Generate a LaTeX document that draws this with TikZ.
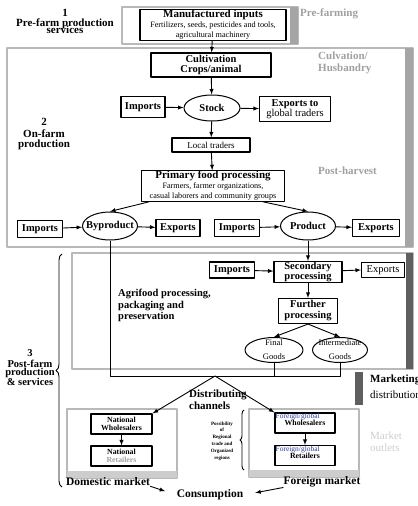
\documentclass[tikz,border=0pt]{standalone}
\usepackage{fontspec}
\setmainfont{Liberation Serif}
\usetikzlibrary{shapes.geometric,decorations.pathreplacing}
\definecolor{zonegray}{RGB}{185,185,185}
\definecolor{bargray}{RGB}{165,165,165}
\definecolor{darkbar}{RGB}{95,95,95}
\definecolor{stagegray}{RGB}{160,160,160}
\definecolor{outletgray}{RGB}{205,205,205}
\definecolor{tagblue}{RGB}{45,60,150}
\newcommand{\setfs}[2]{\fontsize{#1bp}{#2bp}\selectfont}
\newcommand{\smalltext}{\mdseries\setfs{8.2}{7.5}}
\begin{document}
\begin{tikzpicture}[>=latex,line join=bevel,
  zone/.style={draw=zonegray,line width=1.3bp},
  box/.style={draw,line width=1.1bp,inner sep=0.5bp,align=center,font=\setfs{10.5}{10.5}\bfseries},
  oval/.style={ellipse,draw,line width=1bp,inner sep=0pt},
  outlet/.style={draw,line width=1.1bp,inner sep=0.5bp,align=center,minimum width=61bp,minimum height=20bp,font=\setfs{7.8}{8.5}\bfseries},
  flow/.style={black,->,line width=0.9bp},
  link/.style={black,line width=0.9bp},
  stage/.style={align=center,anchor=north,inner sep=0pt,font=\setfs{11}{10}\bfseries},
  phase/.style={align=left,anchor=north west,inner sep=0pt,text=stagegray,font=\setfs{11}{12}\bfseries},
  curly/.style={decorate,decoration={brace,amplitude=6bp},line width=0.9bp},
]
\useasboundingbox (0bp,0bp) rectangle (418bp,-506bp);
%% zones
\draw [zone] (122bp,-7bp) rectangle (298bp,-44bp);
\fill [bargray] (290bp,-7bp) rectangle (298bp,-44bp);
\draw [zone] (7bp,-48bp) rectangle (413bp,-247bp);
\fill [bargray] (405bp,-48bp) rectangle (413bp,-247bp);
\draw [zone] (72bp,-253bp) rectangle (413bp,-369bp);
\fill [darkbar] (406bp,-253bp) rectangle (413bp,-369bp);
\fill [darkbar] (355bp,-372bp) rectangle (363bp,-405bp);
\draw [zone] (67bp,-409bp) rectangle (177bp,-478bp);
\fill [outletgray] (67bp,-471bp) rectangle (177bp,-478bp);
\draw [zone] (249bp,-409bp) rectangle (359bp,-477bp);
\fill [outletgray] (249bp,-470bp) rectangle (359bp,-477bp);
%% stage labels
\node (node_stage1) at (65bp,-9bp) [stage] {1\\Pre-farm production\\[-3bp]services};
\node (node_stage2) at (44bp,-118bp) [stage] {2\\[2bp]On-farm\\production};
\node (node_stage3) at (30bp,-349bp) [stage,font=\setfs{10.5}{8}\bfseries] {3\\[3bp]Post-farm\\production\\\& services};
\node (node_prefarming) at (300bp,-9bp) [phase] {Pre-farming};
\node (node_husbandry) at (318bp,-52bp) [phase] {Culvation/\\Husbandry};
\node (node_postharvest) at (318bp,-167bp) [phase] {Post-harvest};
\node (node_outlets) at (370bp,-432bp) [phase,text=outletgray,font=\setfs{11}{12}] {Market\\outlets};
\node (node_marketing) at (370bp,-375bp) [align=left,anchor=north west,inner sep=0pt,font=\setfs{11}{16}] {\bfseries Marketing\\distribution};
%% pre-farm and on-farm
\node (node_inputs) at (213bp,-25bp) [box,minimum width=146bp,minimum height=30bp] {\setfs{11}{10}Manufactured inputs\\[-1bp]{\smalltext Fertilizers, seeds, pesticides and tools,}\\{\smalltext agricultural machinery}};
\node (node_cult) at (211bp,-65bp) [box,minimum width=120bp,minimum height=24bp] {Cultivation\\Crops/animal};
\node (node_stock) at (212bp,-108bp) [oval,minimum width=56bp,minimum height=26bp,label={[font=\setfs{10.5}{11}\bfseries]center:Stock}] {};
\node (node_imports1) at (143bp,-107bp) [box,minimum width=44bp,minimum height=21bp] {Imports};
\node (node_exports1) at (295bp,-109bp) [box,minimum width=71bp,minimum height=25bp,font=\setfs{10.5}{10}] {\bfseries Exports to\\global traders};
\node (node_local) at (211bp,-145bp) [box,minimum width=78bp,minimum height=14bp,font=\setfs{9}{9}] {Local traders};
\node (node_primary) at (213bp,-186bp) [box,minimum width=143bp,minimum height=28bp] {\setfs{11}{10}Primary food processing\\[-1bp]{\smalltext Farmers, farmer organizations,}\\{\smalltext casual laborers and community groups}};
%% post-harvest
\node (node_byprod) at (110bp,-226bp) [oval,minimum width=55bp,minimum height=28bp,label={[font=\setfs{10.5}{11}\bfseries]center:Byproduct}] {};
\node (node_imports2) at (40bp,-229bp) [box,minimum width=45bp,minimum height=17bp] {Imports};
\node (node_exports2) at (178bp,-228bp) [box,minimum width=44bp,minimum height=17bp] {Exports};
\node (node_imports3) at (237bp,-228bp) [box,minimum width=45bp,minimum height=17bp] {Imports};
\node (node_product) at (308bp,-226bp) [oval,minimum width=55bp,minimum height=28bp,label={[font=\setfs{10.5}{11}\bfseries]center:Product}] {};
\node (node_exports3) at (376bp,-228bp) [box,minimum width=47bp,minimum height=17bp] {Exports};
%% post-farm
\node (node_agrifood) at (118bp,-289bp) [align=left,anchor=north west,inner sep=0pt,font=\setfs{10.5}{11.5}\bfseries] {Agrifood processing,\\packaging and\\preservation};
\node (node_second) at (308bp,-272bp) [box,minimum width=68bp,minimum height=21bp,font=\setfs{10.5}{10}\bfseries] {Secondary\\processing};
\node (node_imports4) at (232bp,-270bp) [box,minimum width=45bp,minimum height=16bp] {Imports};
\node (node_exports4) at (383bp,-270bp) [box,minimum width=43bp,minimum height=15bp,font=\setfs{10.5}{10}] {Exports};
\node (node_further) at (308bp,-311bp) [box,minimum width=59bp,minimum height=25bp,font=\setfs{10.5}{11}\bfseries] {Further\\processing};
\node (node_final) at (274bp,-350bp) [oval,minimum width=58bp,minimum height=25bp,label={[align=center,font=\setfs{8.5}{14}]center:Final\\Goods}] {};
\node (node_inter) at (340bp,-350bp) [oval,minimum width=55bp,minimum height=25bp,label={[align=center,font=\setfs{8.5}{14}]center:Intermediate\\Goods}] {};
\coordinate (node_join) at (215bp,-376bp);
%% distribution
\node (node_channels) at (189bp,-390bp) [align=left,anchor=north west,inner sep=0pt,font=\setfs{11}{12}\bfseries] {Distributing\\channels};
\node (node_nwhole) at (121.5bp,-424bp) [outlet] {National\\Wholesalers};
\node (node_nretail) at (121.5bp,-456bp) [outlet] {National\\\textcolor{stagegray}{Retailers}};
\node (node_fwhole) at (305bp,-423bp) [outlet,minimum width=60bp] {\raisebox{-4bp}{Wholesalers}};
\node (node_fretail) at (305bp,-455.5bp) [outlet,minimum width=60bp] {\raisebox{-4bp}{Retailers}};
\node (node_fwhole_tag) at (node_fwhole.north west) [anchor=north west,inner sep=1bp,text=tagblue,font=\setfs{7.5}{8}] {Foreign/global};
\node (node_fretail_tag) at (node_fretail.north west) [anchor=north west,inner sep=1bp,text=tagblue,font=\setfs{7.5}{8}] {Foreign/global};
\node (node_regional) at (222bp,-441bp) [align=center,inner sep=0pt,font=\setfs{5}{6.8}\bfseries] {Possibility\\of\\Regional\\trade and\\Organized\\regions};
\node (node_domestic) at (108bp,-482bp) [inner sep=0pt,font=\setfs{11.5}{12}\bfseries] {Domestic market};
\node (node_foreign) at (322bp,-482bp) [inner sep=0pt,font=\setfs{11.5}{12}\bfseries] {Foreign market};
\node (node_consum) at (210bp,-495bp) [inner sep=0pt,font=\setfs{11.5}{12}\bfseries] {Consumption};
%% connectors
\draw [flow] (node_inputs) -- (node_cult);
\draw [flow] (node_cult) -- (node_stock);
\draw [flow] (node_imports1) -- (node_stock);
\draw [flow] (node_stock) -- (node_exports1);
\draw [flow] (node_stock) -- (node_local);
\draw [flow] (node_local) -- (node_primary);
\draw [flow] ([xshift=8bp]node_primary.south west) -- (node_byprod.north);
\draw [flow] ([xshift=-22bp]node_primary.south east) -- (node_product.north);
\draw [flow] (node_imports2) -- (node_byprod);
\draw [flow] (node_byprod) -- (node_exports2);
\draw [flow] (node_imports3) -- (node_product);
\draw [flow] (node_product) -- (node_exports3);
\draw [flow] (node_product) -- (node_second);
\draw [flow] (node_imports4) -- (node_second);
\draw [flow] (node_second) -- (node_exports4.west);
\draw [flow] (node_second) -- (node_further);
\draw [flow] (node_further.south) -- (node_final.north);
\draw [flow] (node_further.south) -- (node_inter.north);
\draw [link] (node_byprod.south) -- (node_byprod.south |- node_join) -- (node_inter.south |- node_join) -- (node_inter.south);
\draw [link] (node_final.south) -- (node_final.south |- node_join);
\draw [flow] (node_join) -- (node_nwhole.north east);
\draw [flow] (node_join) -- (node_fwhole.north west);
\draw [flow] (node_nwhole) -- (node_nretail);
\draw [flow] (node_fwhole) -- (node_fretail);
\draw [flow,shorten >=12bp] (node_domestic.south east) -- (node_consum.west);
\draw [flow,shorten >=12bp] (node_foreign.south west) -- (node_consum.east);
%
\draw [curly] (62bp,-487bp) -- (62bp,-254bp);
\draw [curly,decoration={amplitude=4bp}] (244bp,-470bp) -- (244bp,-410bp);
%
\end{tikzpicture}
\end{document}
